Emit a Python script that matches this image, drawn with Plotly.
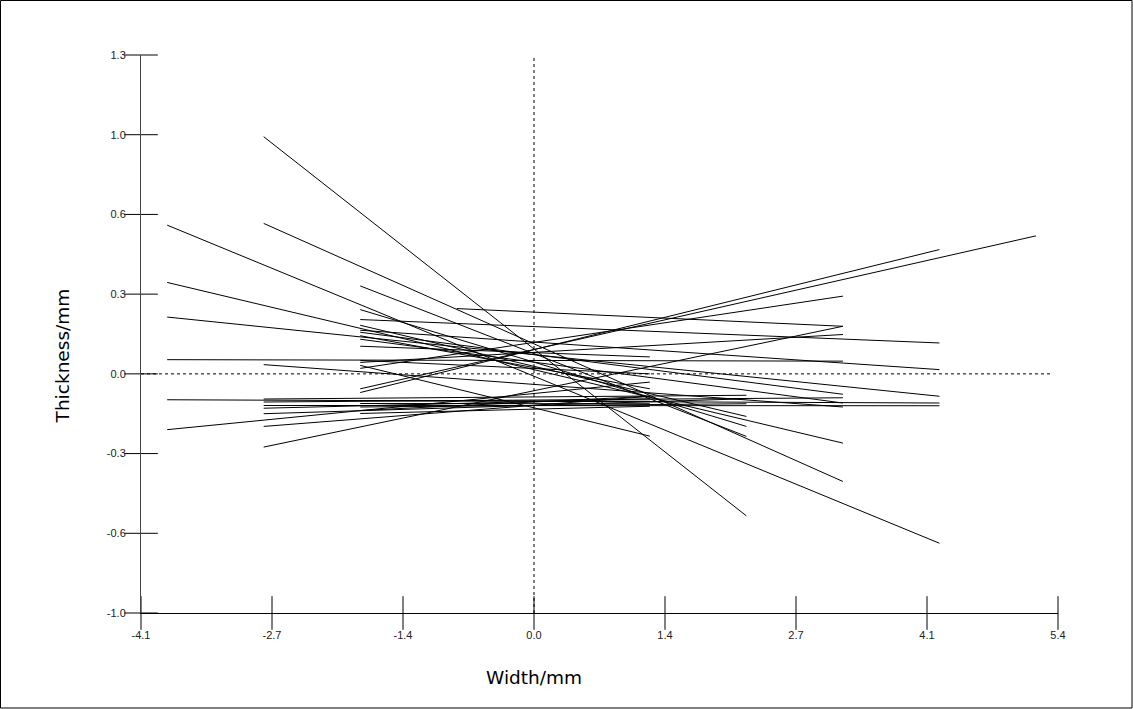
import plotly.graph_objects as go

# Segment data: start/end width (mm) and thickness (mm)
x_start = [-3.8, -3.8, -3.8, -3.8, -3.8, -3.8,
           -2.8, -2.8, -2.8, -2.8, -2.8, -2.8, -2.8, -2.8, -2.8, -2.8,
           -0.8,
           -1.8, -1.8, -1.8, -1.8, -1.8, -1.8, -1.8, -1.8, -1.8, -1.8,
           -1.8, -1.8, -1.8, -1.8, -1.8, -1.8, -1.8, -1.8, -1.8, -1.8]
y_start = [0.597, 0.367, 0.228, 0.057, -0.104, -0.224,
           0.952, 0.604, 0.037, -0.101, -0.113, -0.127, -0.138, -0.160, -0.211, -0.294,
           0.262,
           0.353, 0.258, 0.218, 0.195, 0.175, 0.167, 0.153, 0.139, 0.111, 0.054,
           0.046, 0.034, 0.022, -0.060, -0.075, -0.107, -0.119, -0.133, -0.147, -0.159]
x_end = [4.2, 3.2, 4.2, 3.2, 4.2, 1.2,
         2.2, 3.2, 3.2, 2.2, 3.2, 4.2, 1.2, 2.2, 1.2, 3.2,
         3.2,
         2.2, 2.2, 4.2, 2.2, 4.2, 3.2, 1.2, 3.2, 1.2, 1.2,
         3.2, 1.2, 3.2, 5.2, 4.2, 1.2, 1.2, 2.2, 1.2, 1.2]
y_end = [-0.680, -0.278, -0.090, 0.051, -0.117, -0.033,
         -0.570, -0.432, -0.133, -0.086, -0.096, -0.128, -0.100, -0.100, -0.090, 0.191,
         0.191,
         -0.251, -0.211, 0.124, -0.171, 0.017, -0.082, -0.060, -0.117, 0.068, 0.000,
         0.158, -0.250, 0.312, 0.554, 0.499, -0.110, -0.120, -0.120, -0.090, -0.130]

x_tickvals = [-4.071, -2.714, -1.357, 0.0, 1.357, 2.714, 4.071, 5.428]
x_ticktext = ["-4.1", "-2.7", "-1.4", "0.0", "1.4", "2.7", "4.1", "5.4"]
y_tickvals = [-0.96, -0.64, -0.32, 0.0, 0.32, 0.64, 0.96, 1.28]
y_ticktext = ["-1.0", "-0.6", "-0.3", "0.0", "0.3", "0.6", "1.0", "1.3"]

x_range = [-4.071, 5.428]
y_range = [-0.96, 1.28]

fig = go.Figure()

# reference dashed lines
fig.add_trace(go.Scatter(x=[0, 0], y=y_range, mode="lines",
                         line=dict(color="black", width=1, dash="3px,3px"),
                         hoverinfo="skip", showlegend=False))
fig.add_trace(go.Scatter(x=[x_range[0], 5.35], y=[0, 0], mode="lines",
                         line=dict(color="black", width=1, dash="3px,3px"),
                         hoverinfo="skip", showlegend=False))

xs, ys = [], []
for a, b, c, d in zip(x_start, y_start, x_end, y_end):
    xs += [a, c, None]
    ys += [b, d, None]
fig.add_trace(go.Scatter(x=xs, y=ys, mode="lines",
                         line=dict(color="black", width=1),
                         hoverinfo="skip", showlegend=False))

# crossing tick marks (centred on the axis lines)
fig.add_trace(go.Scatter(x=x_tickvals, y=[y_range[0]] * len(x_tickvals), mode="markers",
                         marker=dict(symbol="line-ns", size=24, color="black",
                                     line=dict(color="black", width=1)),
                         cliponaxis=False, hoverinfo="skip", showlegend=False))
fig.add_trace(go.Scatter(x=[x_range[0]] * len(y_tickvals), y=y_tickvals, mode="markers",
                         marker=dict(symbol="line-ew", size=24, color="black",
                                     line=dict(color="black", width=1)),
                         cliponaxis=False, hoverinfo="skip", showlegend=False))

tickfont = dict(family="Liberation Sans, Arial, sans-serif", size=11, color="#222")

fig.update_layout(
    width=1133, height=709,
    margin=dict(l=141, r=75, t=55, b=96),
    paper_bgcolor="white", plot_bgcolor="white",
    xaxis=dict(range=x_range, tickvals=x_tickvals, ticktext=x_ticktext,
               showgrid=False, zeroline=False, showline=True, linecolor="black",
               linewidth=1, ticks="outside", ticklen=12, tickcolor="rgba(0,0,0,0)",
               tickfont=tickfont),
    yaxis=dict(range=y_range, tickvals=y_tickvals, ticktext=y_ticktext,
               showgrid=False, zeroline=False, showline=True, linecolor="#444",
               linewidth=1, ticks="outside", ticklen=12, tickcolor="rgba(0,0,0,0)",
               tickfont=tickfont),
    showlegend=False,
)

# axis titles
fig.add_annotation(text="Width/mm", x=0.0, xref="x", y=-(677 - 613) / 558, yref="paper",
                   showarrow=False, xanchor="center", yanchor="middle",
                   font=dict(family="DejaVu Sans, sans-serif", size=18.5, color="black"))
fig.add_annotation(text="Thickness/mm", x=(62 - 141) / 917, xref="paper", y=0.07, yref="y",
                   showarrow=False, textangle=-90, xanchor="center", yanchor="middle",
                   font=dict(family="DejaVu Sans, sans-serif", size=18.5, color="black"))

# outer frame around the whole picture
fig.add_shape(type="rect", xref="paper", yref="paper",
              x0=(0.5 - 141) / 917, x1=(1132 - 141) / 917,
              y0=-(708 - 613) / 558, y1=1 + (55 - 0.5) / 558,
              line=dict(color="black", width=1))

fig.write_html("out.html")
